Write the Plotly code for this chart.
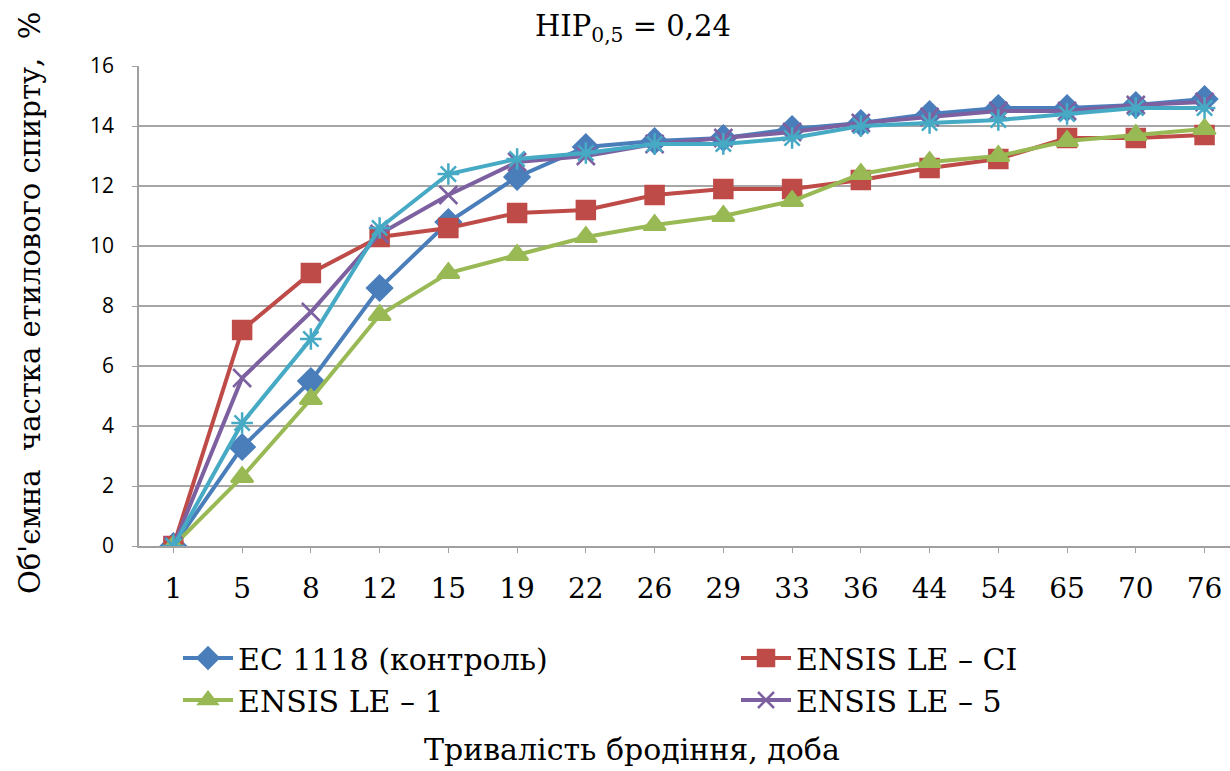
import plotly.graph_objects as go

days = ["1", "5", "8", "12", "15", "19", "22", "26", "29", "33", "36", "44", "54", "65", "70", "76"]
ec1118 = [0, 3.3, 5.5, 8.6, 10.8, 12.3, 13.3, 13.5, 13.6, 13.9, 14.1, 14.4, 14.6, 14.6, 14.7, 14.9]
le_ci = [0, 7.2, 9.1, 10.3, 10.6, 11.1, 11.2, 11.7, 11.9, 11.9, 12.2, 12.6, 12.9, 13.6, 13.6, 13.7]
le_1 = [0, 2.3, 4.9, 7.7, 9.1, 9.7, 10.3, 10.7, 11.0, 11.5, 12.4, 12.8, 13.0, 13.5, 13.7, 13.9]
le_5 = [0, 5.6, 7.8, 10.4, 11.7, 12.8, 13.0, 13.4, 13.6, 13.8, 14.1, 14.3, 14.5, 14.5, 14.7, 14.8]
le_x = [0, 4.1, 6.9, 10.6, 12.4, 12.9, 13.1, 13.4, 13.4, 13.6, 14.0, 14.1, 14.2, 14.4, 14.6, 14.6]

names = ["EC 1118 (контроль)", "ENSIS LE – CI", "ENSIS LE – 1", "ENSIS LE – 5", "ENSIS LE – X"]
colors = ["#4A7EBB", "#BE4B48", "#98B954", "#7D60A0", "#46AAC5"]
symbols = ["diamond", "square", "triangle-up", "x-thin-open", "asterisk-open"]
sizes = [19, 18, 19, 18, 18]
series = [ec1118, le_ci, le_1, le_5, le_x]
legend_of = ["legend", "legend2", "legend", "legend2", "legend"]

SERIF = "DejaVu Serif"
SANS = "Open Sans"
fig = go.Figure()
for i, (nm, ys) in enumerate(zip(names, series)):
    fig.add_trace(go.Scatter(
        x=days, y=ys, name=nm, mode="lines+markers",
        line=dict(color=colors[i], width=4),
        marker=dict(symbol=symbols[i], size=sizes[i], color=colors[i],
                    line=dict(color=colors[i], width=2.5)),
        showlegend=(i < 4), legend=legend_of[i],
    ))

W, H = 1230, 771
L, R, T, B = 139, 0, 66, 225
pw = W - L - R
ph = H - T - B


def px_x(px):
    return (px - L) / pw


def px_y(py):
    return (H - B - py) / ph


leg_common = dict(orientation="v", yanchor="top", xanchor="left",
                  font=dict(family=SERIF, size=30), itemwidth=50,
                  tracegroupgap=0, bgcolor="rgba(0,0,0,0)", traceorder="normal")

fig.update_layout(
    width=W, height=H,
    margin=dict(l=L, r=R, t=T, b=B, autoexpand=False),
    paper_bgcolor="white", plot_bgcolor="white",
    font=dict(family=SERIF, size=30, color="black"),
    showlegend=True,
    legend=dict(leg_common, x=px_x(178), y=px_y(632)),
    legend2=dict(leg_common, x=px_x(736), y=px_y(632)),
    xaxis=dict(type="category", range=[-0.5, 15.37], showgrid=False,
               showline=True, linecolor="#A0A0A0", linewidth=1.5,
               ticks="outside", ticklen=5, tickcolor="#A0A0A0",
               ticklabelstandoff=12,
               tickfont=dict(family=SERIF, size=28)),
    yaxis=dict(range=[0, 16], tickvals=[0, 2, 4, 6, 8, 10, 12, 14, 16],
               showgrid=True, gridcolor="#A6A6A6", gridwidth=1.5,
               showline=True, linecolor="#A0A0A0", linewidth=1.5,
               ticks="outside", ticklen=5, tickcolor="#A0A0A0",
               ticklabelstandoff=14, zeroline=False,
               tickfont=dict(family=SANS, size=21)),
    annotations=[
        dict(text="НІР<sub>0,5</sub> = 0,24", x=px_x(633), y=px_y(28), xref="paper",
             yref="paper", showarrow=False, xanchor="center", yanchor="middle",
             font=dict(family=SERIF, size=29)),
        dict(text="Тривалість бродіння, доба", x=px_x(632), y=px_y(749), xref="paper",
             yref="paper", showarrow=False, xanchor="center", yanchor="middle",
             font=dict(family=SERIF, size=30)),
        dict(text="Об'ємна  частка етилового спирту,  %", x=px_x(30), y=px_y(303),
             xref="paper", yref="paper", showarrow=False, textangle=-90,
             xanchor="center", yanchor="middle", font=dict(family=SERIF, size=29)),
    ],
)

fig.write_html("out.html")
